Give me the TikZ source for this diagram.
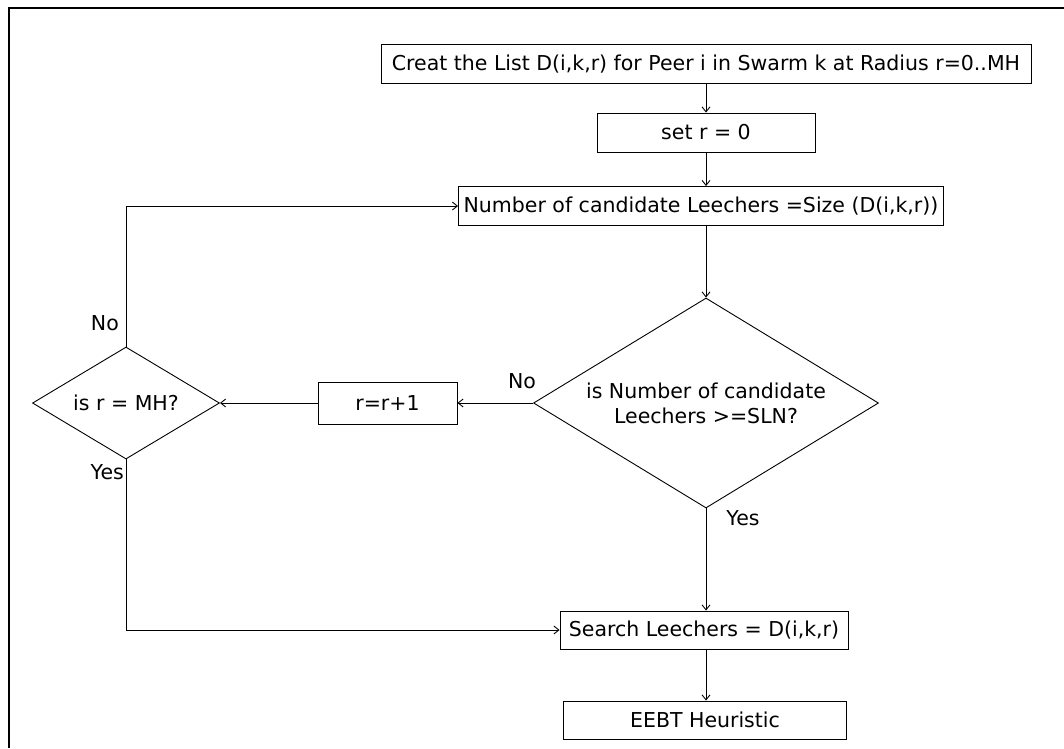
\documentclass[tikz,border=0pt]{standalone}
\usepackage{fontspec}
\setmainfont{DejaVu Sans}
\usetikzlibrary{shapes.geometric,arrows.meta}
\begin{document}
\begin{tikzpicture}[x=1pt,y=-1pt,
  every node/.style={font=\fontsize{20.5}{25}\selectfont},
  box/.style={draw, line width=0.9pt, inner sep=0pt},
  dia/.style={draw, line width=0.9pt, diamond, inner sep=0pt, align=center},
  lbl/.style={inner sep=0pt},
  conn/.style={line width=0.9pt, -{Straight Barb[length=5pt,width=8pt]}}]
\useasboundingbox (0,0) rectangle (1064,748);
\draw[line width=2pt] (9,748) -- (9,8) -- (1070,8);

\node[box, minimum width=650, minimum height=39] (b1) at (706,64) {Creat the List D(i,k,r) for Peer i in Swarm k at Radius r=0..MH};
\node[box, minimum width=218, minimum height=39] (b2) at (706,132.5) {set r = 0};
\node[box, minimum width=485, minimum height=39] (b3) at (701,206) {Number of candidate Leechers =Size (D(i,k,r))};
\node[dia, minimum width=345, minimum height=210, aspect=1.64] (d1) at (706,403) {is Number of candidate\\Leechers >=SLN?};
\node[box, minimum width=139, minimum height=42] (b4) at (387.5,403) {r=r+1};
\node[dia, minimum width=187, minimum height=112, aspect=1.67] (d2) at (126,403) {is r = MH?};
\node[box, minimum width=288, minimum height=38] (b5) at (704,630) {Search Leechers = D(i,k,r)};
\node[box, minimum width=283, minimum height=38] (b6) at (705,720) {EEBT Heuristic\hspace{48pt}};

\node[lbl, anchor=east] (lno1) at (119,323) {No};
\node[lbl, anchor=east] (lyes1) at (124,472) {Yes};
\node[lbl] (lno2) at (522,381) {No};
\node[lbl] (lyes2) at (743,518) {Yes};

\draw[conn] (b1.south -| b2) -- (b2.north);
\draw[conn] (b2.south) -- (b2.south |- b3.north);
\draw[conn] (b3.south -| d1) -- (d1.north);
\draw[conn] (d1.west) -- (b4.east);
\draw[conn] (b4.west) -- (d2.east);
\draw[conn] (d2.north) -- (d2.north |- b3.west) -- (b3.west);
\draw[conn] (d2.south) -- (d2.south |- b5.west) -- (b5.west);
\draw[conn] (d1.south) -- (d1.south |- b5.north);
\draw[conn] (b5.south -| d1) -- (b6.north -| d1);
\end{tikzpicture}
\end{document}
